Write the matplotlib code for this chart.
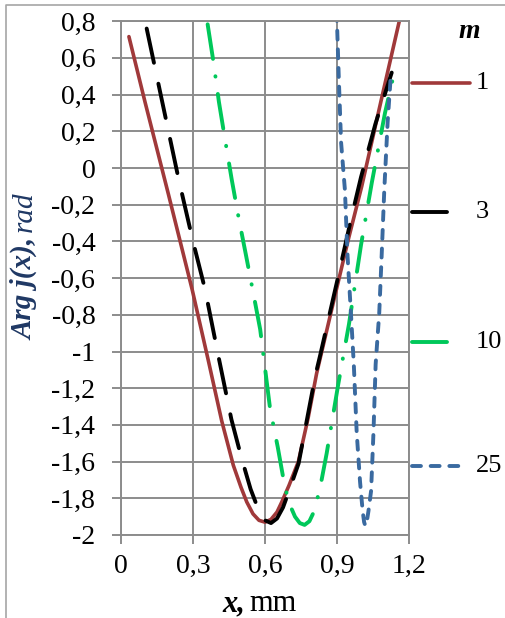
# -*- coding: utf-8 -*-
import matplotlib
matplotlib.use('Agg')
import matplotlib.pyplot as plt
from matplotlib.lines import Line2D

plt.rcParams['font.family'] = ['Liberation Serif', 'DejaVu Serif']

# curves: x in mm, Arg j(x) in rad
x_m1 = [0.033, 0.10, 0.197, 0.297, 0.364, 0.42, 0.468, 0.50, 0.524, 0.55,
        0.575, 0.60, 0.625, 0.65, 0.67, 0.70, 0.739, 0.78, 0.815, 0.878,
        0.947, 1.003, 1.086, 1.17]
y_m1 = [0.716, 0.36, -0.14, -0.665, -1.05, -1.38, -1.62, -1.74, -1.82, -1.885,
        -1.92, -1.93, -1.915, -1.875, -1.82, -1.73, -1.60, -1.36, -1.12, -0.77,
        -0.39, -0.10, 0.38, 0.86]

x_m3 = [0.107, 0.24, 0.30, 0.35, 0.405, 0.46, 0.50, 0.54, 0.575, 0.60,
        0.625, 0.65, 0.675, 0.70, 0.74, 0.81, 0.83, 0.90, 0.96, 1.00,
        1.06, 1.128]
y_m3 = [0.76, -0.06, -0.40, -0.66, -1.02, -1.37, -1.57, -1.75, -1.87, -1.92,
        -1.935, -1.91, -1.85, -1.76, -1.61, -1.13, -1.02, -0.62, -0.27, -0.05,
        0.24, 0.52]

x_m10 = [0.361, 0.385, 0.408, 0.433, 0.461, 0.49, 0.52, 0.551, 0.58, 0.60,
         0.621, 0.653, 0.683, 0.705, 0.725, 0.745, 0.765, 0.785, 0.805, 0.83,
         0.857, 0.905, 0.95, 1.00, 1.045, 1.10, 1.142]
y_m10 = [0.783, 0.58, 0.36, 0.16, -0.06, -0.27, -0.47, -0.68, -0.88, -1.09,
         -1.31, -1.52, -1.74, -1.84, -1.90, -1.935, -1.945, -1.925, -1.87, -1.74,
         -1.555, -1.18, -0.85, -0.42, -0.08, 0.30, 0.54]

x_m25 = [0.898, 0.900, 0.908, 0.917, 0.933, 0.944, 0.958, 0.970, 0.982, 0.996,
         1.007, 1.013, 1.018, 1.024, 1.031, 1.042, 1.052, 1.061, 1.076, 1.086,
         1.097, 1.111, 1.125]
y_m25 = [0.85, 0.79, 0.47, 0.14, -0.12, -0.48, -0.79, -1.07, -1.44, -1.71,
         -1.87, -1.93, -1.95, -1.93, -1.87, -1.76, -1.44, -1.07, -0.79, -0.48,
         -0.12, 0.25, 0.52]

m_labels = ['1', '3', '10', '25']

x_ticks = [0, 0.3, 0.6, 0.9, 1.2]
x_tick_labels = ['0', '0,3', '0,6', '0,9', '1,2']
y_ticks = [-2, -1.8, -1.6, -1.4, -1.2, -1, -0.8, -0.6, -0.4, -0.2,
           0, 0.2, 0.4, 0.6, 0.8]
y_tick_labels = ['-2', '-1,8', '-1,6', '-1,4', '-1,2', '-1', '-0,8', '-0,6',
                 '-0,4', '-0,2', '0', '0,2', '0,4', '0,6', '0,8']

styles = [
    dict(color='#A0393A', lw=2.6, ls='-'),
    dict(color='#000000', lw=2.8, dashes=(9, 5.5)),
    dict(color='#00C85A', lw=2.8, dashes=(9, 4.5, 0.1, 4.5)),
    dict(color='#3A6AA0', lw=2.8, dashes=(2.3, 2.5)),
]

W, H = 505, 618
fig = plt.figure(figsize=(W / 100, H / 100), dpi=100)
ax = fig.add_axes([121 / W, 1 - 535 / H, (409 - 121) / W, (535 - 21.2) / H])

series = [(x_m1, y_m1), (x_m3, y_m3), (x_m10, y_m10), (x_m25, y_m25)]
for (xs, ys), st in zip(series, styles):
    ax.plot(xs, ys, solid_capstyle='round', dash_capstyle='round',
            solid_joinstyle='round', **st)

ax.set_xlim(0, 1.2)
ax.set_ylim(-2, 0.8)
ax.set_xticks(x_ticks)
ax.set_xticklabels(x_tick_labels)
ax.set_yticks(y_ticks)
ax.set_yticklabels(y_tick_labels)
ax.grid(True, color='#8C8C8C', lw=1.4)
ax.set_axisbelow(True)
for sp in ax.spines.values():
    sp.set_color('#8C8C8C')
    sp.set_linewidth(1.4)
ax.tick_params(direction='out', length=6.5, width=1.4, color='#8C8C8C',
               labelsize=20)
ax.tick_params(axis='y', pad=12)
ax.tick_params(axis='x', pad=7)

# y title: bold italic part, then plain italic "rad" right after it
t1 = fig.text(25 / W, 1 - 340 / H, 'Arg j(x),', rotation=90, ha='center', va='bottom',
              fontsize=21, fontweight='bold', fontstyle='italic', color='#1F3864')
fig.canvas.draw()
bb = t1.get_window_extent()
fig.text(25 / W, (bb.y1 + 6) / H, 'rad', rotation=90, ha='center', va='bottom',
         fontsize=21, fontstyle='italic', color='#1F3864')

fig.text(245 / W, 1 - 611 / H, 'x,', ha='right', va='baseline',
         fontsize=22, fontweight='bold', fontstyle='italic')
fig.text(249 / W, 1 - 611 / H, 'mm', ha='left', va='baseline', fontsize=22)

# legend, spread down the right side
fig.text(469 / W, 1 - 32 / H, 'm', ha='center', va='center',
         fontsize=20, fontweight='bold', fontstyle='italic')
leg_y = [83, 212, 342, 466]
leg_x1 = [470, 452, 452, 468]
for lab, st, yy, x1 in zip(m_labels, styles, leg_y, leg_x1):
    fig.add_artist(Line2D([412 / W, x1 / W], [1 - yy / H, 1 - yy / H],
                          transform=fig.transFigure, solid_capstyle='round',
                          dash_capstyle='round', **st))
    fig.text(476 / W, 1 - yy / H, lab, ha='left', va='center', fontsize=19)

# chart-area frame
fig.add_artist(Line2D([6 / W, 6 / W, 1], [0, 1 - 5 / H, 1 - 5 / H],
                      transform=fig.transFigure, color='#A6A6A6', lw=1.2))

fig.savefig('out.png', dpi=100)
